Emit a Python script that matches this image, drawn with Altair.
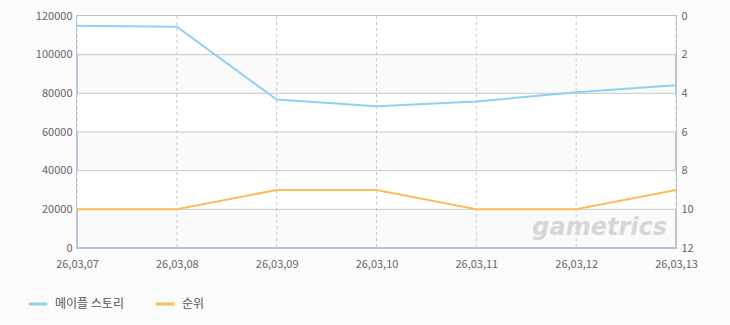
import altair as alt
import pandas as pd

dates = ["26,03,07", "26,03,08", "26,03,09", "26,03,10", "26,03,11", "26,03,12", "26,03,13"]
users = [115000, 114500, 76800, 73300, 75800, 80500, 84200]
rank = [10, 10, 9, 9, 10, 10, 9]
series_names = ["메이플 스토리", "순위"]
series_colors = ["#8ed1f2", "#fbbd5b"]
band_lo = [20000, 60000, 100000]
band_hi = [40000, 80000, 120000]
left_ticks = [0, 20000, 40000, 60000, 80000, 100000, 120000]
right_ticks = [0, 2, 4, 6, 8, 10, 12]

font = "Noto Sans CJK KR"

df_u = pd.DataFrame({"date": dates, "value": users, "series": series_names[0]})
df_r = pd.DataFrame({"date": dates, "value": rank, "series": series_names[1]})
df_b = pd.DataFrame({"lo": band_lo, "hi": band_hi})

x_axis = alt.Axis(title=None, labelAngle=0, ticks=False, domain=False, grid=False,
                  labelColor="#666", labelFontSize=11, labelFont=font, labelPadding=10)
x_scale = alt.Scale(type="point", padding=0)

def xenc(field="date"):
    return alt.X(f"{field}:N", sort=dates, scale=x_scale, axis=x_axis)

color = alt.Color("series:N",
                  scale=alt.Scale(domain=series_names, range=series_colors),
                  legend=alt.Legend(title=None, orient="none", direction="horizontal",
                                    legendX=-50, legendY=277,
                                    symbolType="M-1,0L1,0", symbolSize=350,
                                    symbolStrokeWidth=3, labelFontSize=12,
                                    labelFont=font, labelColor="#555",
                                    columnPadding=25, labelOffset=6))

yl_scale = alt.Scale(domain=[0, 120000], nice=False)
yl_axis = alt.Axis(title=None, values=left_ticks, format="d", ticks=False, domain=False,
                   grid=False, labelColor="#666", labelFontSize=11,
                   labelFont=font, labelPadding=5)

bands = alt.Chart(df_b).mark_rect(color="white").encode(
    y=alt.Y("lo:Q", scale=yl_scale, axis=yl_axis),
    y2="hi:Q",
)

grid_v = alt.Chart(pd.DataFrame({"date": dates})).mark_rule(
    color="#c8c8c8", strokeDash=[3, 3], strokeWidth=1
).encode(x=xenc())

grid_h = alt.Chart(pd.DataFrame({"v": left_ticks[1:-1]})).mark_rule(
    color="#c8c8c8", strokeWidth=1
).encode(y=alt.Y("v:Q", scale=yl_scale, axis=yl_axis))

line_u = alt.Chart(df_u).mark_line(strokeWidth=2).encode(
    x=xenc(),
    y=alt.Y("value:Q", scale=yl_scale, axis=yl_axis),
    color=color,
)

left = alt.layer(bands, grid_h, grid_v, line_u)

line_r = alt.Chart(df_r).mark_line(strokeWidth=2).encode(
    x=xenc(),
    y=alt.Y("value:Q", scale=alt.Scale(domain=[0, 12], reverse=True, nice=False),
            axis=alt.Axis(title=None, orient="right", values=right_ticks,
                          ticks=False, domain=False, grid=False,
                          labelColor="#666", labelFontSize=11, labelFont=font,
                          labelPadding=5)),
    color=color,
)

watermark = alt.Chart(pd.DataFrame({"t": ["gametrics"]})).mark_text(
    font="DejaVu Sans", fontSize=24, fontStyle="italic", fontWeight="bold",
    color="#d6d6d6", align="right", baseline="middle"
).encode(text="t:N", x=alt.value(590), y=alt.value(212))

chart = alt.layer(left, line_r, watermark).resolve_scale(y="independent").properties(
    width=599, height=232,
    background="#fbfbfb",
    padding={"left": 77, "top": 16, "right": 54, "bottom": 77},
    autosize=alt.AutoSizeParams(type="none"),
).configure_view(stroke="#b3c5d7", strokeWidth=2, fill="#fafafa")

chart.save("out.html", embed_options={"renderer": "svg", "actions": False})
